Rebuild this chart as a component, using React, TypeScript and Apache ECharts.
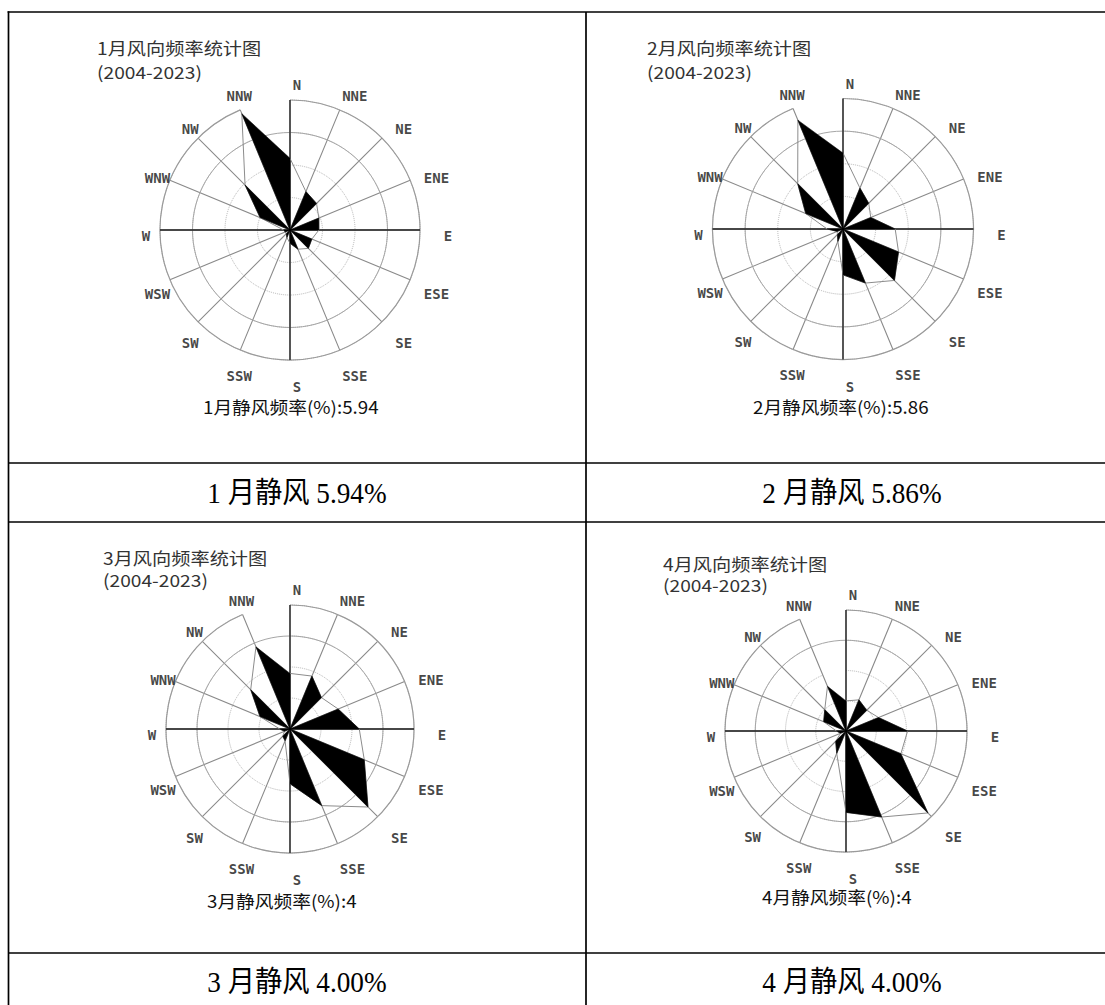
import React, { useEffect, useRef } from 'react';
import * as echarts from 'echarts';

// ---- data ----
const DIRECTIONS = ['N', 'NNE', 'NE', 'ENE', 'E', 'ESE', 'SE', 'SSE', 'S', 'SSW', 'SW', 'WSW', 'W', 'WNW', 'NW', 'NNW'];
const MONTHS = ['1', '2', '3', '4'];
const JAN_FREQ = [12.4, 7.2, 6.5, 5.4, 5.0, 4.1, 4.5, 3.6, 2.3, 1.4, 0.9, 0.9, 1.1, 5.6, 11.0, 21.8];
const FEB_FREQ = [9.6, 5.6, 4.6, 3.8, 6.6, 7.6, 9.2, 7.4, 5.8, 1.7, 1.0, 0.8, 2.0, 5.1, 8.1, 14.9];
const MAR_FREQ = [6.5, 6.7, 5.2, 6.1, 8.1, 9.4, 12.9, 9.7, 6.4, 1.5, 1.2, 0.7, 1.2, 3.8, 6.5, 10.4];
const APR_FREQ = [4.1, 4.6, 4.0, 4.8, 8.4, 8.1, 15.8, 12.7, 11.1, 3.3, 2.0, 0.8, 1.3, 3.3, 4.1, 6.6];
const SCALE_MAX = [22.5, 16.5, 14.5, 16.5];
const CALM_FREQ = ['5.94', '5.86', '4', '4'];
const CALM_CAPTION = ['5.94%', '5.86%', '4.00%', '4.00%'];
const YEARS = '(2004-2023)';
const CARDINALS = ['N', 'E', 'S', 'W'];

// ---- layout (pixels) ----
const LAYOUT = [
  { cx: 290, cy: 230, r: 130, titleX: 97, titleY: 47.5, subY: 71.5, footX: 203, footY: 406.5 },
  { cx: 843, cy: 229, r: 130.5, titleX: 647, titleY: 47.5, subY: 71.5, footX: 753, footY: 406.5 },
  { cx: 290, cy: 729, r: 124, titleX: 103, titleY: 557.5, subY: 579.5, footX: 207, footY: 900.5 },
  { cx: 846, cy: 731, r: 121, titleX: 663, titleY: 563.5, subY: 585, footX: 762, footY: 896.5 },
];
const CAPTION_POS = [
  { x: 297, y: 493 },
  { x: 852, y: 493 },
  { x: 297, y: 982 },
  { x: 852, y: 982 },
];

const CJK = '"Noto Sans CJK SC", sans-serif';

function buildOption() {
  const freqs = [JAN_FREQ, FEB_FREQ, MAR_FREQ, APR_FREQ];
  const polar: any[] = [];
  const angleAxis: any[] = [];
  const radiusAxis: any[] = [];
  const series: any[] = [];
  const graphic: any[] = [];

  const hidden = { show: false };

  freqs.forEach((freq, k) => {
    const L = LAYOUT[k];
    const mainIdx = k * 2;
    const labelIdx = k * 2 + 1;
    const max = SCALE_MAX[k];

    polar.push({ center: [L.cx, L.cy], radius: L.r });
    polar.push({ center: [L.cx + 7, L.cy + 6], radius: L.r + 21 });

    angleAxis.push({
      polarIndex: mainIdx,
      type: 'category',
      data: DIRECTIONS,
      boundaryGap: false,
      startAngle: 90,
      clockwise: true,
      axisLine: { show: true, lineStyle: { color: '#9a9a9a', width: 1.2 } },
      axisTick: hidden,
      axisLabel: hidden,
      splitLine: { show: true, lineStyle: { color: '#8a8a8a', width: 1.1 } },
    });
    angleAxis.push({
      polarIndex: labelIdx,
      type: 'category',
      data: DIRECTIONS,
      boundaryGap: false,
      startAngle: 90,
      clockwise: true,
      axisLine: hidden,
      axisTick: hidden,
      axisLabel: hidden,
      splitLine: hidden,
    });
    radiusAxis.push({
      polarIndex: mainIdx,
      type: 'value',
      min: 0,
      max,
      interval: max / 4,
      axisLine: hidden,
      axisTick: hidden,
      axisLabel: hidden,
      splitLine: { show: true, lineStyle: { color: '#b4b4b4', type: 'dotted', width: 1 } },
    });
    radiusAxis.push({
      polarIndex: labelIdx,
      type: 'value',
      min: 0,
      max: 1,
      axisLine: hidden,
      axisTick: hidden,
      axisLabel: hidden,
      splitLine: hidden,
    });

    // solid 3/4 ring
    series.push({
      type: 'custom',
      coordinateSystem: 'polar',
      polarIndex: mainIdx,
      silent: true,
      z: 2,
      data: [[max * 0.75, 0]],
      renderItem: (_p: any, api: any) => {
        const c = api.coord([0, 0]);
        const p = api.coord([api.value(0), 0]);
        const rr = Math.hypot(p[0] - c[0], p[1] - c[1]);
        return {
          type: 'circle',
          shape: { cx: c[0], cy: c[1], r: rr },
          style: { fill: 'none', stroke: '#a6a6a6', lineWidth: 1 },
        };
      },
    });

    // dark cardinal spokes (N, E, S, W)
    series.push({
      type: 'custom',
      coordinateSystem: 'polar',
      polarIndex: mainIdx,
      silent: true,
      z: 2,
      data: CARDINALS.map((d) => [max, DIRECTIONS.indexOf(d)]),
      renderItem: (_p: any, api: any) => {
        const c = api.coord([0, api.value(1)]);
        const p = api.coord([api.value(0), api.value(1)]);
        return {
          type: 'line',
          shape: { x1: c[0], y1: c[1], x2: p[0], y2: p[1] },
          style: { stroke: '#1e1e1e', lineWidth: 1.3 },
        };
      },
    });

    // frequency outline
    series.push({
      type: 'line',
      coordinateSystem: 'polar',
      polarIndex: mainIdx,
      silent: true,
      symbol: 'none',
      z: 3,
      lineStyle: { color: '#8c8c8c', width: 1 },
      data: [...freq.map((v, i) => [v, i]), [freq[0], 0]],
    });

    // black petals (odd direction to next direction)
    const petals = freq
      .map((v, i) => [v, i, freq[(i + 1) % freq.length], (i + 1) % freq.length])
      .filter((_d, i) => i % 2 === 1);
    series.push({
      type: 'custom',
      coordinateSystem: 'polar',
      polarIndex: mainIdx,
      silent: true,
      z: 4,
      data: petals,
      renderItem: (_p: any, api: any) => {
        const c = api.coord([0, api.value(1)]);
        const a = api.coord([api.value(0), api.value(1)]);
        const b = api.coord([api.value(2), api.value(3)]);
        return {
          type: 'polygon',
          shape: { points: [c, a, b] },
          style: { fill: '#000', stroke: '#000', lineWidth: 0.5 },
        };
      },
    });

    // direction labels
    series.push({
      type: 'scatter',
      coordinateSystem: 'polar',
      polarIndex: labelIdx,
      silent: true,
      z: 5,
      symbolSize: 1,
      itemStyle: { color: 'rgba(0,0,0,0)' },
      data: DIRECTIONS.map((d) => [1, d]),
      label: {
        show: true,
        position: 'inside',
        formatter: (p: any) => DIRECTIONS[p.dataIndex],
        fontFamily: '"DejaVu Sans Mono", monospace',
        fontWeight: 'bold',
        fontSize: 14,
        color: '#151515',
      },
    });

    const m = MONTHS[k];
    graphic.push({
      type: 'text',
      x: L.titleX,
      y: L.titleY,
      scaleX: 1.13,
      silent: true,
      style: {
        text: `${m}月风向频率统计图`,
        fontSize: 17,
        fontFamily: CJK,
        fill: '#333',
        align: 'left',
        verticalAlign: 'middle',
      },
    });
    graphic.push({
      type: 'text',
      x: L.titleX,
      y: L.subY,
      scaleX: 1.13,
      silent: true,
      style: {
        text: YEARS,
        fontSize: 17,
        fontFamily: CJK,
        fill: '#333',
        align: 'left',
        verticalAlign: 'middle',
      },
    });
    graphic.push({
      type: 'text',
      x: L.footX,
      y: L.footY,
      scaleX: 1.07,
      silent: true,
      style: {
        text: `${m}月静风频率(%):${CALM_FREQ[k]}`,
        fontSize: 17.5,
        fontFamily: CJK,
        fill: '#111',
        align: 'left',
        verticalAlign: 'middle',
      },
    });
    graphic.push({
      type: 'text',
      x: CAPTION_POS[k].x,
      y: CAPTION_POS[k].y,
      scaleX: 0.94,
      silent: true,
      style: {
        text: `${m} 月静风 ${CALM_CAPTION[k]}`,
        fontSize: 29,
        fontFamily: '"Liberation Serif", "Noto Sans CJK SC", serif',
        fill: '#000',
        align: 'center',
        verticalAlign: 'middle',
      },
    });
  });

  // table rules
  const rule = (x1: number, y1: number, x2: number, y2: number) => ({
    type: 'line',
    silent: true,
    z: 10,
    shape: { x1, y1, x2, y2 },
    style: { stroke: '#000', lineWidth: 1.7 },
  });
  graphic.push(rule(7.6, 12, 1105, 12));
  graphic.push(rule(8.5, 11.2, 8.5, 1005));
  graphic.push(rule(586, 12, 586, 1005));
  graphic.push(rule(8, 463, 1105, 463));
  graphic.push(rule(8, 522, 1105, 522));
  graphic.push(rule(8, 953, 1105, 953));

  return {
    animation: false,
    backgroundColor: '#fff',
    polar,
    angleAxis,
    radiusAxis,
    series,
    graphic,
  };
}

export default function App() {
  const ref = useRef<HTMLDivElement>(null);
  useEffect(() => {
    if (!ref.current) return;
    const chart = echarts.init(ref.current, undefined, { renderer: 'svg' });
    chart.setOption(buildOption() as any);
    return () => chart.dispose();
  }, []);
  return (
    <div
      ref={ref}
      style={{ position: 'absolute', left: 0, top: 0, width: 1105, height: 1005 }}
    />
  );
}
